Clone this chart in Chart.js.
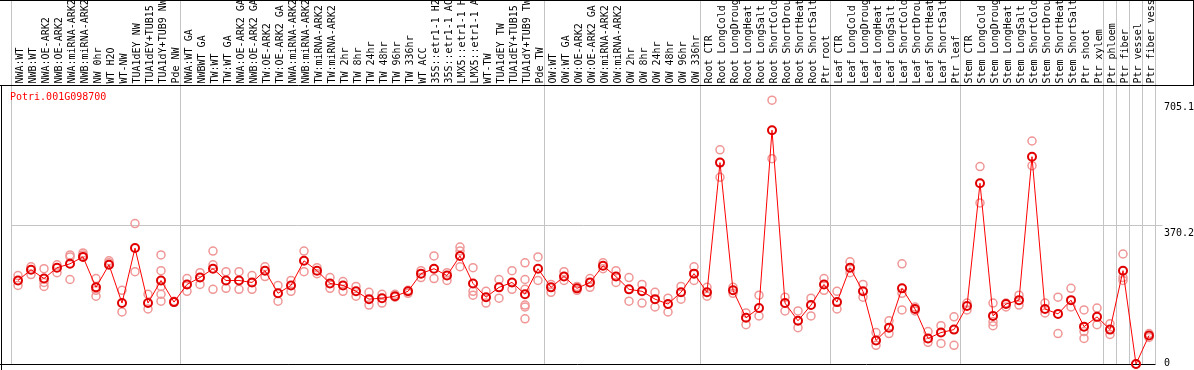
<!DOCTYPE html>
<html>
<head>
<meta charset="utf-8">
<title>Potri.001G098700</title>
<script src="https://cdn.jsdelivr.net/npm/chart.js@4.4.1/dist/chart.umd.min.js"></script>
<style>
    html, body { margin: 0; padding: 0; background: #fff; }
    canvas { display: block; }
</style>
</head>
<body>
<canvas id="expressionChart" width="1194" height="370"></canvas>
<script>
// Gene shown in the top left corner of the plot
const geneName = 'Potri.001G098700';

// Sample names, one per column
const sampleLabels = [
    'NWA:WT', 'NWB:WT', 'NWA:OE-ARK2', 'NWB:OE-ARK2', 'NWA:miRNA-ARK2', 'NWB:miRNA-ARK2',
    'NW 0hr', 'WT H2O', 'WT-NW', 'TUA1dEY NW', 'TUA1dEY+TUB15 NW', 'TUA1dY+TUB9 NW', 'Pde NW',
    'NWA:WT GA', 'NWBWT GA', 'TW:WT', 'TW:WT GA', 'NWA:OE-ARK2 GA', 'NWB:OE-ARK2 GA',
    'TW:OE-ARK2', 'TW:OE-ARK2 GA', 'NWA:miRNA-ARK2 GA', 'NWB:miRNA-ARK2 GA', 'TW:miRNA-ARK2',
    'TW:miRNA-ARK2 GA', 'TW 2hr', 'TW 8hr', 'TW 24hr', 'TW 48hr', 'TW 96hr', 'TW 336hr',
    'WT ACC', '35S::etr1-1 H2O', '35S::etr1-1 ACC', 'LMX5::etr1-1 H2O', 'LMX5::etr1-1 ACC',
    'WT-TW', 'TUA1dEY TW', 'TUA1dEY+TUB15 TW', 'TUA1dY+TUB9 TW', 'Pde TW',
    'OW:WT', 'OW:WT GA', 'OW:OE-ARK2', 'OW:OE-ARK2 GA', 'OW:miRNA-ARK2', 'OW:miRNA-ARK2 GA',
    'OW 2hr', 'OW 8hr', 'OW 24hr', 'OW 48hr', 'OW 96hr', 'OW 336hr',
    'Root CTR', 'Root LongCold', 'Root LongDrought', 'Root LongHeat', 'Root LongSalt',
    'Root ShortCold', 'Root ShortDrought', 'Root ShortHeat', 'Root ShortSalt', 'Ptr root',
    'Leaf CTR', 'Leaf LongCold', 'Leaf LongDrought', 'Leaf LongHeat', 'Leaf LongSalt',
    'Leaf ShortCold', 'Leaf ShortDrought', 'Leaf ShortHeat', 'Leaf ShortSalt', 'Ptr leaf',
    'Stem CTR', 'Stem LongCold', 'Stem LongDrought', 'Stem LongHeat', 'Stem LongSalt',
    'Stem ShortCold', 'Stem ShortDrought', 'Stem ShortHeat', 'Stem ShortSalt', 'Ptr shoot',
    'Ptr xylem', 'Ptr phloem', 'Ptr fiber', 'Ptr vessel', 'Ptr fiber vessel'
];

// Mean expression per sample (red line)
const meanValues = [
    223.2, 252.0, 228.4, 257.3, 267.8, 286.2, 204.8, 265.2, 162.8, 309.8, 162.8, 223.2, 165.4,
    212.7, 231.0, 254.7, 223.2, 223.2, 217.9, 249.4, 189.0, 210.0, 275.7, 249.4, 215.3, 210.0,
    194.3, 173.3, 175.9, 181.2, 194.3, 241.5, 254.7, 236.3, 288.8, 215.3, 178.5, 204.8, 217.9,
    186.4, 254.7,
    204.8, 233.7, 202.2, 217.9, 262.5, 233.7, 199.5, 194.3, 173.3, 160.2, 191.7, 241.5,
    191.7, 538.2, 196.9, 123.4, 149.6, 624.8, 162.8, 115.5, 157.5, 212.7,
    165.4, 257.3, 194.3, 63.0, 97.1, 202.2, 147.0, 68.3, 84.0, 91.9,
    154.9, 483.1, 128.6, 160.2, 170.7, 554.0, 147.0, 133.9, 170.7, 99.8,
    126.0, 91.9, 249.4, 0, 76.1
];

// Individual replicates per sample (light circles)
const replicateValues = [
    [236.3, 210.0], [259.9, 238.9], [254.7, 217.9, 207.4], [265.2, 244.2], [291.4, 286.2, 225.8],
    [296.7, 291.4], [228.4, 196.9, 181.2], [275.7, 270.4], [196.9, 139.1], [375.4, 246.8],
    [186.4, 147.0], [291.4, 249.4, 207.4, 186.4, 168.0], [165.4, 168.0],
    [228.4, 194.3], [244.2, 212.7], [301.9, 265.2, 199.5], [246.8, 202.2], [246.8, 199.5],
    [236.3, 199.5], [259.9, 233.7], [210.0, 168.0], [223.2, 194.3], [301.9, 246.8],
    [257.3, 241.5], [231.0, 202.2], [220.5, 194.3], [207.4, 181.2], [191.7, 157.5],
    [186.4, 162.8], [186.4, 178.5], [196.9, 189.0], [249.4, 231.0], [288.8, 228.4],
    [244.2, 223.2], [312.4, 301.9, 259.9], [257.3, 194.3, 183.8], [194.3, 162.8],
    [225.8, 175.9], [249.4, 199.5], [270.4, 225.8, 199.5, 157.5, 152.3, 120.8], [286.2, 223.2],
    [212.7, 191.7], [246.8, 223.2], [207.4, 196.9], [228.4, 204.8], [270.4, 254.7],
    [249.4, 217.9], [231.0, 168.0], [212.7, 162.8], [191.7, 152.3], [175.9, 139.1],
    [207.4, 173.3], [259.9, 223.2],
    [204.8, 181.2], [572.3, 498.8], [204.8, 189.0], [136.5, 105.0], [183.8, 128.6],
    [705.1, 548.7], [178.5, 141.8], [141.8, 97.1], [175.9, 128.6], [228.4, 196.9],
    [194.3, 147.0], [273.0, 244.2], [212.7, 178.5], [84.0, 49.9], [115.5, 81.4],
    [267.8, 189.0, 144.4], [152.3, 141.8], [86.6, 57.8], [102.4, 55.1], [126.0, 49.9],
    [144.4, 162.8], [527.7, 430.6], [162.8, 112.9, 102.4], [162.8, 152.3], [183.8, 157.5],
    [596.0, 530.0], [162.8, 136.5], [178.5, 81.4], [202.2, 152.3], [144.4, 86.6, 68.3],
    [149.6, 105.0], [107.6, 78.8], [294.0, 231.0, 223.2], [0, 0], [81.4, 70.9]
];

// Right axis labels and the top of the value range
const yTickValues = [0, 370.2, 705.1];
const yMax = 744.3;

// Columns that start a new group (gray separator on their left edge); last one is the right edge
const groupStarts = [0, 13, 41, 53, 63, 73, 84, 85, 86, 87, 88];

const monoFont = "'DejaVu Sans Mono', 'Liberation Mono', monospace";
Chart.defaults.font.family = monoFont;
Chart.defaults.font.size = 10;
Chart.defaults.color = '#000';

// Spread the replicates into one dataset per replicate slot
const maxReplicates = Math.max(...replicateValues.map(r => r.length));
const replicateDatasets = [];
for (let k = 0; k < maxReplicates; k++) {
    replicateDatasets.push({
        label: 'Replicate ' + (k + 1),
        data: replicateValues.map(r => (r[k] === undefined ? null : r[k])),
        showLine: false,
        pointRadius: 4,
        pointBorderWidth: 1.5,
        pointBorderColor: 'rgb(240, 150, 150)',
        pointBackgroundColor: 'rgba(0,0,0,0)',
        order: 1,
        clip: false
    });
}

// Frame lines, gene name and the right hand value labels
const framePlugin = {
    id: 'frame',
    beforeDatasetsDraw(chart) {
        const ctx = chart.ctx;
        const area = chart.chartArea;
        ctx.save();
        ctx.strokeStyle = '#000';
        ctx.lineWidth = 1;
        ctx.beginPath();
        ctx.moveTo(0, 0.5); ctx.lineTo(chart.width, 0.5);
        ctx.moveTo(0, area.top); ctx.lineTo(chart.width, area.top);
        ctx.moveTo(chart.width - 0.5, 0); ctx.lineTo(chart.width - 0.5, area.top);
        ctx.moveTo(1.5, area.top); ctx.lineTo(1.5, chart.height);
        ctx.moveTo(0, area.bottom + 0.5); ctx.lineTo(area.right, area.bottom + 0.5);
        ctx.stroke();

        ctx.font = '10px ' + monoFont;
        ctx.textBaseline = 'top';
        ctx.fillStyle = '#ff0000';
        ctx.fillText(geneName, 10, area.top + 7);

        // value labels sit just under their level, kept inside the picture
        const yScale = chart.scales.y;
        ctx.fillStyle = '#000';
        yTickValues.forEach(v => {
            const py = Math.min(yScale.getPixelForValue(v) + 2.5, 358.5);
            ctx.fillText(String(v), area.right + 8.5, py);
        });
        ctx.restore();
    }
};

new Chart(document.getElementById('expressionChart'), {
    type: 'line',
    data: {
        labels: sampleLabels,
        datasets: [
            {
                label: 'Mean',
                data: meanValues,
                borderColor: '#ff0000',
                borderWidth: 1,
                tension: 0,
                pointRadius: 4,
                pointBorderWidth: 2,
                pointBorderColor: '#e00000',
                pointBackgroundColor: 'rgba(0,0,0,0)',
                order: 0,
                clip: false
            },
            ...replicateDatasets
        ]
    },
    options: {
        responsive: false,
        animation: false,
        devicePixelRatio: 1,
        layout: { padding: { left: 11.5, right: 0, top: 0, bottom: 1 } },
        plugins: {
            legend: { display: false },
            tooltip: { enabled: false }
        },
        scales: {
            x: {
                position: 'top',
                offset: true,
                grid: {
                    offset: true,
                    drawTicks: true,
                    tickLength: 86,
                    lineWidth: 1,
                    color: (ctx) => {
                        const i = ctx.index === undefined ? sampleLabels.length : ctx.index;
                        return groupStarts.includes(i) ? '#c4c4c4' : 'rgba(0,0,0,0)';
                    }
                },
                border: { display: false },
                ticks: {
                    autoSkip: false,
                    minRotation: 90,
                    maxRotation: 90,
                    padding: -84,
                    labelOffset: 14,
                    color: '#000',
                    font: { family: monoFont, size: 10 }
                },
                afterFit: (scale) => {
                    scale.height = 85.5;
                    scale.paddingLeft = 0;
                    scale.paddingRight = 0;
                }
            },
            y: {
                position: 'right',
                min: 0,
                max: yMax,
                afterBuildTicks: (scale) => {
                    scale.ticks = yTickValues.map(v => ({ value: v }));
                },
                grid: {
                    tickLength: 7,
                    color: (ctx) => (ctx.tick && ctx.tick.value === 370.2 ? '#c4c4c4' : 'rgba(0,0,0,0)')
                },
                border: { display: false },
                ticks: { display: false },
                afterFit: (scale) => {
                    scale.width = 38.5;
                    scale.paddingTop = 0;
                    scale.paddingBottom = 0;
                }
            }
        }
    },
    plugins: [framePlugin]
});
</script>
</body>
</html>
